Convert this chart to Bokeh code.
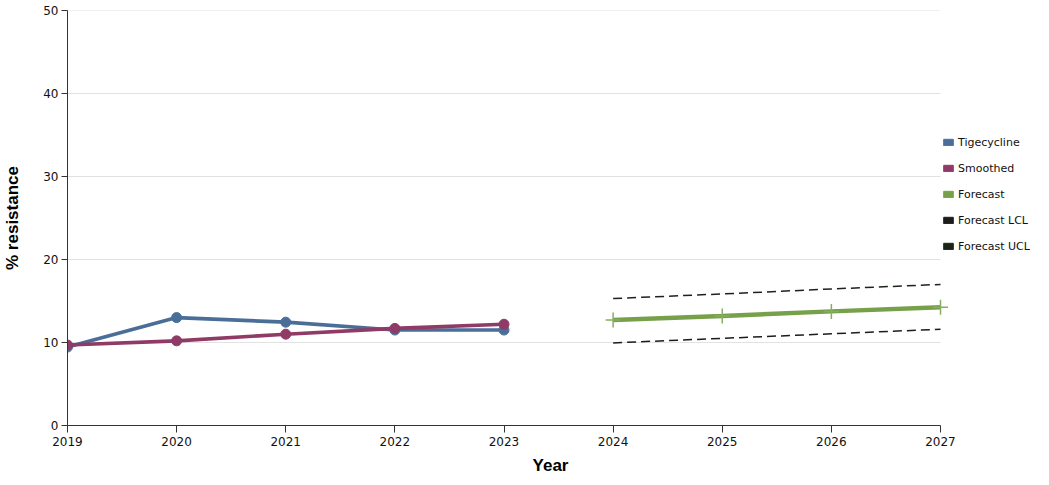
from bokeh.plotting import figure
from bokeh.models import ColumnDataSource, Legend, LegendItem, Range1d, FixedTicker
from bokeh.embed import file_html
from bokeh.resources import INLINE

years_obs = [2019, 2020, 2021, 2022, 2023]
tigecycline = [9.45, 13.0, 12.45, 11.5, 11.5]
smoothed = [9.7, 10.2, 11.0, 11.7, 12.2]
years_fc = [2024, 2025, 2026, 2027]
forecast = [12.7, 13.2, 13.75, 14.25]
forecast_lcl = [9.95, 10.5, 11.05, 11.6]
forecast_ucl = [15.3, 15.85, 16.45, 17.0]
x_ticks = [2019, 2020, 2021, 2022, 2023, 2024, 2025, 2026, 2027]
y_ticks = [0, 10, 20, 30, 40, 50]

C_TIG = "#4b6e99"
C_SMO = "#8f3b66"
C_FC = "#77a04a"
C_LCL = "#1c1c1c"
C_UCL = "#1b2418"

W, H = 1033, 477
LEFT, TOP, BOTTOM = 67, 10, 51
AXIS_RIGHT_PX = 940          # pixel where the last year sits
px_per_year = (AXIS_RIGHT_PX - LEFT) / (x_ticks[-1] - x_ticks[0])
x_end = x_ticks[-1] + (W - AXIS_RIGHT_PX) / px_per_year

p = figure(width=W, height=H, output_backend="svg", toolbar_location=None,
           x_range=Range1d(x_ticks[0], x_end), y_range=Range1d(y_ticks[0], y_ticks[-1]),
           min_border_left=LEFT, min_border_right=0, min_border_top=TOP,
           min_border_bottom=BOTTOM)
p.outline_line_color = None
p.background_fill_color = "white"

p.xgrid.grid_line_color = None
p.ygrid.grid_line_color = None
# horizontal grid lines only across the year span
p.segment(x0=x_ticks[0], x1=x_ticks[-1], y0=y_ticks[1:], y1=y_ticks[1:],
          line_color="#e2e2e2", line_width=1)

for ax in (p.xaxis[0], p.yaxis[0]):
    ax.minor_tick_line_color = None
    ax.axis_line_color = "#333333"
    ax.major_tick_line_color = "#333333"
    ax.major_label_text_font = "DejaVu Sans"
    ax.major_label_text_font_size = "12px"
    ax.major_label_text_color = "#111111"
    ax.axis_label_text_font = "Liberation Sans"
    ax.axis_label_text_font_style = "bold"
    ax.axis_label_text_font_size = "17px"
    ax.axis_label_text_color = "#000000"
    ax.major_tick_in = 0

p.xaxis.ticker = FixedTicker(ticks=x_ticks)
p.yaxis.ticker = FixedTicker(ticks=y_ticks)
p.xaxis.bounds = (x_ticks[0], x_ticks[-1])
p.xaxis.major_tick_out = 7
p.yaxis.major_tick_out = 6
p.xaxis.axis_label = "Year"
p.yaxis.axis_label = "% resistance"
p.xaxis.axis_label_standoff = 7
p.yaxis.axis_label_standoff = 18
p.xaxis.major_label_standoff = 4
p.yaxis.major_label_standoff = 3

obs = ColumnDataSource(dict(x=years_obs, tig=tigecycline, smo=smoothed))
fc = ColumnDataSource(dict(x=years_fc, f=forecast, lcl=forecast_lcl, ucl=forecast_ucl))

p.line("x", "lcl", source=fc, line_color=C_LCL, line_width=1.5, line_dash="9 5")
p.line("x", "ucl", source=fc, line_color=C_UCL, line_width=1.5, line_dash="9 5")
p.line("x", "f", source=fc, line_color=C_FC, line_width=4.5)
p.scatter("x", "f", source=fc, marker="cross", size=15, line_color="#86ad60", line_width=1.5)

p.line("x", "tig", source=obs, line_color=C_TIG, line_width=3.6)
p.scatter("x", "tig", source=obs, marker="circle", size=10, fill_color=C_TIG, line_color=C_TIG)
p.line("x", "smo", source=obs, line_color=C_SMO, line_width=3.6)
p.scatter("x", "smo", source=obs, marker="circle", size=10, fill_color=C_SMO, line_color=C_SMO)

names = ["Tigecycline", "Smoothed", "Forecast", "Forecast LCL", "Forecast UCL"]
cols = [C_TIG, C_SMO, C_FC, C_LCL, C_UCL]
items = []
nan = float("nan")
for n, c in zip(names, cols):
    r = p.rect(x=[x_ticks[0]], y=[nan], width=1, height=1, fill_color=c, line_color=c)
    items.append(LegendItem(label=n, renderers=[r]))

frame_h = H - TOP - BOTTOM
legend_h = 5 * 14 + 4 * 12
legend_top = 136 - TOP
legend = Legend(items=items, location=(942 - LEFT, frame_h - legend_top - legend_h),
                orientation="vertical",
                glyph_width=12, glyph_height=8, label_height=14, spacing=12,
                label_standoff=4, padding=0, margin=0,
                label_text_font="DejaVu Sans", label_text_font_size="11px",
                label_text_color="#111111",
                border_line_color=None, background_fill_alpha=0)
p.add_layout(legend, "center")

open("out.html", "w").write(file_html(p, INLINE))
